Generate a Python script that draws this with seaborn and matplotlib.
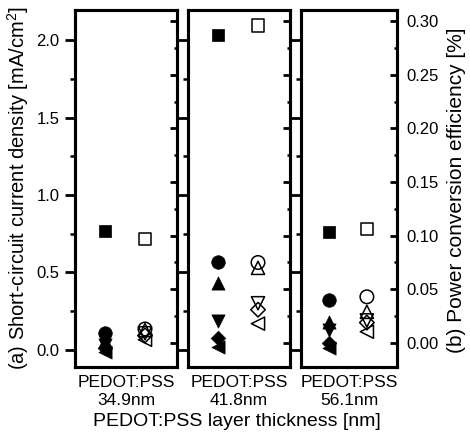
import matplotlib
matplotlib.use("Agg")
import matplotlib.pyplot as plt
import seaborn as sns
from matplotlib.ticker import MultipleLocator, FormatStrFormatter

# ---------------- data ----------------
thickness = ["34.9nm", "41.8nm", "56.1nm"]
marker_shapes = ["s", "o", "^", "v", "D", "<"]

# (a) short-circuit current density [mA/cm2]  (filled markers, left axis)
jsc_square = [0.77, 2.03, 0.76]
jsc_circle = [0.11, 0.57, 0.32]
jsc_tri_up = [0.06, 0.43, 0.18]
jsc_tri_down = [0.03, 0.19, 0.13]
jsc_diamond = [0.01, 0.08, 0.045]
jsc_tri_left = [-0.01, 0.02, 0.013]

# (b) power conversion efficiency [%]  (open markers, right axis)
pce_square = [0.097, 0.296, 0.106]
pce_circle = [0.013, 0.075, 0.043]
pce_tri_up = [0.012, 0.070, 0.029]
pce_tri_down = [0.009, 0.037, 0.021]
pce_diamond = [0.007, 0.031, 0.019]
pce_tri_left = [0.003, 0.018, 0.0105]

jsc_series = [jsc_square, jsc_circle, jsc_tri_up, jsc_tri_down, jsc_diamond, jsc_tri_left]
pce_series = [pce_square, pce_circle, pce_tri_up, pce_tri_down, pce_diamond, pce_tri_left]

# ---------------- style ----------------
sns.set_style("ticks")
plt.rcParams["font.family"] = ["Liberation Sans", "DejaVu Sans"]
plt.rcParams["mathtext.fontset"] = "custom"
plt.rcParams["mathtext.rm"] = "Liberation Sans"
plt.rcParams["mathtext.default"] = "regular"
plt.rcParams["text.color"] = "black"
plt.rcParams["axes.labelcolor"] = "black"
plt.rcParams["xtick.color"] = "black"
plt.rcParams["ytick.color"] = "black"
plt.rcParams["axes.edgecolor"] = "black"

W, H = 470, 437
fig = plt.figure(figsize=(W / 100, H / 100), dpi=100)


def rect(x0, x1, ytop=10, ybot=367):
    return [x0 / W, 1 - ybot / H, (x1 - x0) / W, (ybot - ytop) / H]


panel_x = [(75, 177), (188, 290), (301, 397)]
sizes = {"s": 80, "o": 95, "^": 90, "v": 90, "D": 55, "<": 90}

for i, (x0, x1) in enumerate(panel_x):
    ax = fig.add_axes(rect(x0, x1))
    ax2 = ax.twinx()

    for m, ser in zip(marker_shapes, jsc_series):
        sns.scatterplot(x=[0], y=[ser[i]], marker=m, s=sizes[m], color="black",
                        edgecolor="black", linewidth=0.5, ax=ax, legend=False, zorder=3)
    for m, ser in zip(marker_shapes, pce_series):
        sns.scatterplot(x=[1], y=[ser[i]], marker=m, s=sizes[m], color="black",
                        edgecolor="black", linewidth=1.1, ax=ax2, legend=False, zorder=3)
        ax2.collections[-1].set_facecolor("none")

    ax.set_xlim(-0.75, 1.8)
    ax.set_ylim(-0.11, 2.194)
    ax2.set_ylim(-0.0224, 0.3103)

    ax.set_xticks([])
    ax.set_xlabel(f"PEDOT:PSS\n{thickness[i]}", fontsize=12.5, labelpad=6)
    ax.set_ylabel("")
    ax2.set_ylabel("")

    ax.yaxis.set_major_locator(MultipleLocator(0.5))
    ax.yaxis.set_minor_locator(MultipleLocator(0.25))
    ax.yaxis.set_major_formatter(FormatStrFormatter("%.1f"))
    ax.tick_params(axis="y", which="major", direction="out", length=7, width=2,
                   labelsize=12, pad=4, left=True, right=False, labelleft=(i == 0))
    ax.tick_params(axis="y", which="minor", direction="out", length=3.5, width=1.8,
                   left=True, right=False)

    ax2.yaxis.set_major_locator(MultipleLocator(0.05))
    ax2.yaxis.set_minor_locator(MultipleLocator(0.025))
    ax2.yaxis.set_major_formatter(FormatStrFormatter("%.2f"))
    ax2.tick_params(axis="y", which="major", direction="in", length=5, width=2,
                    labelsize=12, pad=7, right=True, left=False, labelright=(i == 2))
    ax2.tick_params(axis="y", which="minor", direction="in", length=2.5, width=1.8,
                    right=True, left=False)
    ax2.set_xticks([])

    for a in (ax, ax2):
        for sp in a.spines.values():
            sp.set_visible(True)
            sp.set_linewidth(2.2)
            sp.set_color("black")

fig.text(237 / W, 1 - 422 / H, "PEDOT:PSS layer thickness [nm]",
         ha="center", va="center", fontsize=14)
fig.text(18 / W, 1 - 188 / H, "(a) Short-circuit current density [mA/cm$^2$]",
         ha="center", va="center", rotation=90, fontsize=14.5)
fig.text(457 / W, 1 - 190 / H, "(b) Power conversion efficiency [%]",
         ha="center", va="center", rotation=90, fontsize=15)

fig.savefig("out.png", dpi=100)
